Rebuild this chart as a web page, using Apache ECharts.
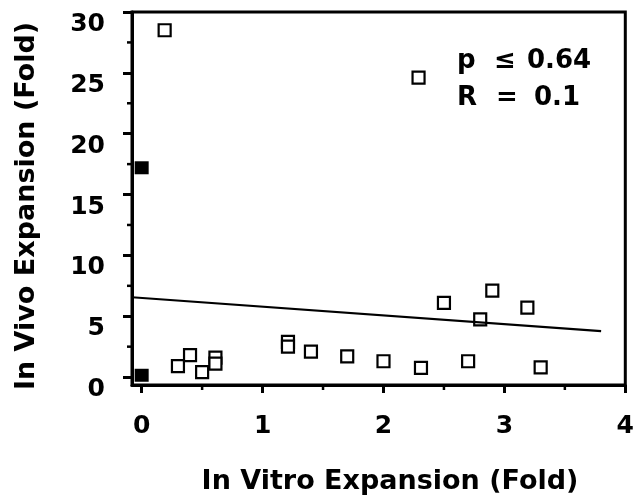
<!DOCTYPE html>
<html><head><meta charset="utf-8">
<script src="https://cdn.jsdelivr.net/npm/echarts@6/dist/echarts.min.js"></script>
<style>html,body{margin:0;padding:0;background:#fff}#c{width:637px;height:502px}</style>
</head><body><div id="c"></div>
<script>
// ---- data ----
const openX = [0.19, 2.29, 0.30, 0.40, 0.50, 0.61, 0.61, 1.21, 1.21, 1.40, 1.70, 2.00, 2.31, 2.70, 3.30, 2.50, 2.90, 3.19, 2.80];
const openY = [28.5, 24.6, 0.9, 1.8, 0.4, 1.6, 1.1, 2.9, 2.5, 2.1, 1.7, 1.3, 0.75, 1.3, 0.8, 6.1, 7.1, 5.7, 4.75];
const filledX = [0, 0];
const filledY = [17.2, 0.15];
const fitX = [-0.08, 3.8];
const fitY = [6.56, 3.77];
const xTicks = [0, 1, 2, 3, 4];
const xMinorTicks = [0.5, 1.5, 2.5, 3.5];
const yTicks = [0, 5, 10, 15, 20, 25, 30];
const yMinorTicks = [2.5, 7.5, 12.5, 17.5, 22.5, 27.5];
const xTitle = 'In Vitro Expansion (Fold)';
const yTitle = 'In Vivo Expansion (Fold)';
const statRow1 = ['p', '≤', '0.64'];
const statRow2 = ['R', '=', '0.1'];

const X_MIN = -0.08, X_MAX = 4, Y_MIN = -0.65, Y_MAX = 30;
const FONT = 'DejaVu Sans';

const chart = echarts.init(document.getElementById('c'), null, {renderer: 'canvas'});

const zip = (a, b) => a.map((v, i) => [v, b[i]]);

function statText(parts, xs, y) {
  return parts.map((t, i) => ({
    type: 'text', x: xs[i], y: y,
    style: {text: t, fill: '#000', font: 'bold 26px "' + FONT + '"', textAlign: 'left', textVerticalAlign: 'middle'}
  }));
}

const option = {
  animation: false,
  backgroundColor: '#fff',
  grid: {left: 132, right: 9, top: 12, bottom: 117, containLabel: false, show: true, borderColor: '#000', borderWidth: 3, backgroundColor: 'transparent'},
  xAxis: {
    type: 'value', min: X_MIN, max: X_MAX,
    axisLine: {show: true, onZero: false, lineStyle: {color: '#000', width: 3}},
    axisTick: {show: true, customValues: xTicks, length: 8, lineStyle: {color: '#000', width: 3}},
    axisLabel: {customValues: xTicks, color: '#000', fontSize: 25, fontWeight: 'bold', fontFamily: FONT, margin: 29},
    splitLine: {show: false}
  },
  yAxis: {
    type: 'value', min: Y_MIN, max: Y_MAX,
    axisLine: {show: true, onZero: false, lineStyle: {color: '#000', width: 3}},
    axisTick: {show: true, customValues: yTicks, length: 9, lineStyle: {color: '#000', width: 3}},
    axisLabel: {customValues: yTicks, color: '#000', fontSize: 25, fontWeight: 'bold', fontFamily: FONT, margin: 27, verticalAlign: 'top'},
    splitLine: {show: false}
  },
  series: [
    {
      type: 'custom', silent: true, clip: false,
      data: xMinorTicks.map(v => [v, Y_MIN]),
      renderItem: (params, api) => {
        const p = api.coord([api.value(0), Y_MIN]);
        return {type: 'line', shape: {x1: p[0], y1: p[1], x2: p[0], y2: p[1] + 5}, style: {stroke: '#000', lineWidth: 2.5}};
      }
    },
    {
      type: 'custom', silent: true, clip: false,
      data: yMinorTicks.map(v => [X_MIN, v]),
      renderItem: (params, api) => {
        const p = api.coord([X_MIN, api.value(1)]);
        return {type: 'line', shape: {x1: p[0] - 5, y1: p[1], x2: p[0], y2: p[1]}, style: {stroke: '#000', lineWidth: 2.5}};
      }
    },
    {
      type: 'line', data: zip(fitX, fitY), symbol: 'none',
      lineStyle: {color: '#000', width: 2.2}
    },
    {
      type: 'scatter', data: zip(openX, openY), symbol: 'rect', symbolSize: 12,
      itemStyle: {color: '#fff', borderColor: '#000', borderWidth: 2.2, opacity: 1}
    },
    {
      type: 'scatter', data: zip(filledX, filledY), symbol: 'rect', symbolSize: [14, 13],
      itemStyle: {color: '#000', opacity: 1}
    }
  ],
  graphic: [
    {type: 'text', x: 390, y: 482, style: {text: xTitle, fill: '#000', font: 'bold 27px "' + FONT + '"', textAlign: 'center', textVerticalAlign: 'middle'}},
    {type: 'text', x: 27, y: 206, rotation: Math.PI / 2, style: {text: yTitle, fill: '#000', font: 'bold 27px "' + FONT + '"', textAlign: 'center', textVerticalAlign: 'middle'}},
    ...statText(statRow1, [457, 494, 527], 61),
    ...statText(statRow2, [457, 496, 534], 98)
  ]
};
chart.setOption(option);
</script>
</body></html>
